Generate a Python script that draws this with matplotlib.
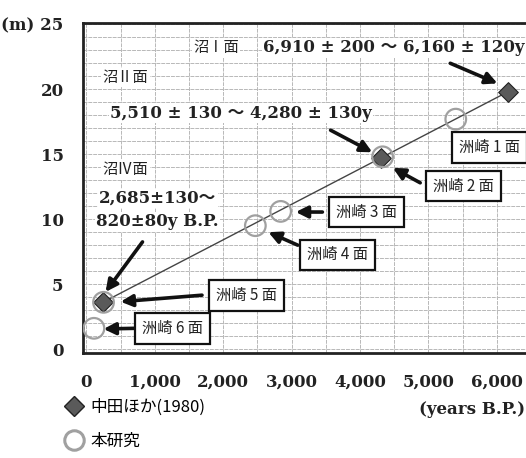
import matplotlib
matplotlib.use("Agg")
import matplotlib.pyplot as plt
from matplotlib.lines import Line2D
from matplotlib.ticker import MultipleLocator

SERIF = ["DejaVu Serif", "Noto Sans CJK JP"]
CJK = ["Noto Sans CJK JP", "DejaVu Serif"]

# 中田ほか(1980): 年代 (years B.P.) と 高度 (m)
nakata_age = [240, 4300, 6160]
nakata_height = [3.6, 14.7, 19.8]

# 本研究: 洲崎 6 面 ～ 1 面
study_age = [110, 250, 2470, 2840, 4330, 5400]
study_height = [1.6, 3.6, 9.5, 10.6, 14.8, 17.7]

xticks = [0, 1000, 2000, 3000, 4000, 5000, 6000]
xtick_labels = ["0", "1,000", "2,000", "3,000", "4,000", "5,000", "6,000"]
yticks = [0, 5, 10, 15, 20, 25]
ytick_labels = ["0", "5", "10", "15", "20", "(m) 25"]

fig = plt.figure(figsize=(5.26, 4.58), dpi=100)
ax = fig.add_axes([83 / 526, 105 / 458, 448 / 526, 330 / 458])
ax.set_xlim(-50, 6500)
ax.set_ylim(-0.3, 25.1)

ax.xaxis.set_minor_locator(MultipleLocator(500))
ax.yaxis.set_minor_locator(MultipleLocator(1))
ax.grid(which="both", color="#b8b8b8", lw=0.7, ls=(0, (4, 1)))
ax.set_axisbelow(True)

ax.set_xticks(xticks)
ax.set_xticklabels(xtick_labels)
ax.set_yticks(yticks)
ax.set_yticklabels(ytick_labels)
ax.tick_params(which="both", length=0)
ax.tick_params(axis="x", pad=15)
ax.tick_params(axis="y", pad=14)
for lab in ax.get_xticklabels() + ax.get_yticklabels():
    lab.set_family(SERIF)
    lab.set_fontweight("bold")
    lab.set_fontsize(12)
    lab.set_color("#222222")

for side in ["left", "bottom", "top"]:
    ax.spines[side].set_linewidth(2)
    ax.spines[side].set_color("#222222")
ax.spines["right"].set_visible(False)

# 回帰線と各データ
ax.plot(nakata_age, nakata_height, color="#444444", lw=1.0, zorder=3)
ax.scatter(study_age, study_height, s=220, facecolors="none", edgecolors="#a0a0a0",
           linewidths=1.6, zorder=6)
ax.scatter(nakata_age, nakata_height, s=100, marker="D", color="#5a5a5a",
           edgecolors="#222222", linewidths=0.8, zorder=5)

white = dict(facecolor="white", edgecolor="none", pad=1)
num_kw = dict(family=SERIF, fontweight="bold", fontsize=12, color="#222222")
jp_kw = dict(family=CJK, fontsize=11, color="#222222")

ax.text(1560, 23.2, "沼Ⅰ面", va="center", ha="left", bbox=white, **jp_kw)
ax.text(2580, 23.2, "6,910 ± 200 ～ 6,160 ± 120y", va="center", ha="left",
        bbox=white, **num_kw)
ax.text(240, 20.9, "沼Ⅱ面", va="center", ha="left", bbox=white, **jp_kw)
ax.text(350, 18.15, "5,510 ± 130 ～ 4,280 ± 130y", va="center", ha="left",
        bbox=white, **num_kw)
ax.text(240, 13.8, "沼Ⅳ面", va="center", ha="left", bbox=white, **jp_kw)
ax.text(1040, 11.6, "2,685±130～", va="center", ha="center", bbox=white, **num_kw)
ax.text(1040, 9.8, "820±80y B.P.", va="center", ha="center", bbox=white, **num_kw)

arrow = dict(arrowstyle="-|>,head_length=0.7,head_width=0.35", color="#111111",
             lw=2.6, shrinkA=0, shrinkB=0)
ax.annotate("", xy=(6010, 20.45), xytext=(5320, 22.0), arrowprops=arrow, zorder=7)
ax.annotate("", xy=(4180, 15.15), xytext=(3570, 16.85), arrowprops=arrow, zorder=7)
ax.annotate("", xy=(280, 4.4), xytext=(820, 8.25), arrowprops=arrow, zorder=7)

box = dict(facecolor="white", edgecolor="#111111", lw=1.6, boxstyle="square,pad=0.45")
labels = [
    ("洲崎 1 面", (5890, 15.5), None),
    ("洲崎 2 面", (5510, 12.55), ((4880, 12.8), (4480, 13.95))),
    ("洲崎 3 面", (4095, 10.55), ((3450, 10.55), (3060, 10.55))),
    ("洲崎 4 面", (3670, 7.25), ((3090, 8.0), (2660, 9.0))),
    ("洲崎 5 面", (2340, 4.15), ((1690, 4.15), (500, 3.65))),
    ("洲崎 6 面", (1255, 1.6), ((715, 1.6), (250, 1.55))),
]
for text, pos, arr in labels:
    ax.text(pos[0], pos[1], text, ha="center", va="center", bbox=box, zorder=8,
            **jp_kw)
    if arr is not None:
        ax.annotate("", xy=arr[1], xytext=arr[0], arrowprops=arrow, zorder=7)

fig.text(525 / 526, 1 - 410 / 458, "(years B.P.)", ha="right", va="center",
         **num_kw)

handles = [
    Line2D([], [], marker="D", ls="none", markersize=10, color="#5a5a5a",
           markeredgecolor="#222222"),
    Line2D([], [], marker="o", ls="none", markersize=14, markerfacecolor="white",
           markeredgecolor="#a0a0a0", markeredgewidth=2.2),
]
fig.legend(handles, ["中田ほか(1980)", "本研究"], loc="upper left",
           bbox_to_anchor=(64 / 526, 1 - 399 / 458), frameon=False,
           prop=dict(family=CJK, size=12), handletextpad=0.4, labelspacing=1.0,
           borderaxespad=0, borderpad=0, handlelength=1.2)

fig.savefig("out.png", dpi=100)
